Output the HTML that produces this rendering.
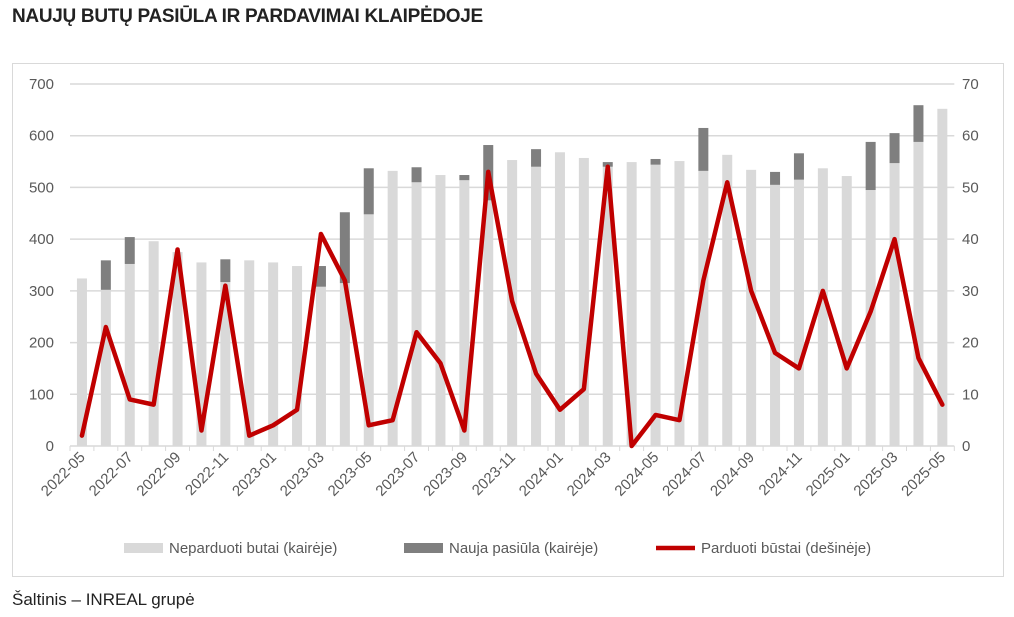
<!DOCTYPE html>
<html><head><meta charset="utf-8"><style>
body{margin:0;background:#fff;font-family:"Liberation Sans",sans-serif;}
#title{position:absolute;left:12px;top:6px;font-size:19px;font-weight:bold;color:#222;letter-spacing:-0.3px}
#frame{position:absolute;left:12px;top:63px;width:990px;height:512px;border:1px solid #d9d9d9}
#src{position:absolute;left:12px;top:590px;font-size:17px;color:#222}
svg text{font-family:"Liberation Sans",sans-serif;fill:#595959;font-size:15px}
</style></head><body>
<div id="title">NAUJŲ BUTŲ PASIŪLA IR PARDAVIMAI KLAIPĖDOJE</div>
<div id="frame"></div>
<div id="src">Šaltinis – INREAL grupė</div>
<svg id="chart" width="1014" height="617" style="position:absolute;left:0;top:0"></svg>
<script>
const categories=["2022-05","2022-06","2022-07","2022-08","2022-09","2022-10","2022-11","2022-12","2023-01","2023-02","2023-03","2023-04","2023-05","2023-06","2023-07","2023-08","2023-09","2023-10","2023-11","2023-12","2024-01","2024-02","2024-03","2024-04","2024-05","2024-06","2024-07","2024-08","2024-09","2024-10","2024-11","2024-12","2025-01","2025-02","2025-03","2025-04","2025-05"];
const unsold=[324,302,352,396,375,355,317,359,355,348,308,315,448,532,510,524,514,475,553,540,568,557,540,549,544,551,532,563,534,505,515,537,522,495,547,588,652];
const newSupply=[0,57,52,0,0,0,44,0,0,0,40,137,89,0,29,0,10,107,0,34,0,0,9,0,11,0,83,0,0,25,51,0,0,93,58,71,0];
const sold=[2,23,9,8,38,3,31,2,4,7,41,32,4,5,22,16,3,53,28,14,7,11,54,0,6,5,32,51,30,18,15,30,15,26,40,17,8];
const leftTicks=[0,100,200,300,400,500,600,700];
const rightTicks=[0,10,20,30,40,50,60,70];
const NS="http://www.w3.org/2000/svg";
const svg=document.getElementById('chart');
const x0=70,step=23.9,y0=446,yTop=84;
const yL=v=>y0-(v/700)*(y0-yTop);
const yR=v=>y0-(v/70)*(y0-yTop);
const xc=i=>x0+step*(i+0.5);
function mk(t,a){const e=document.createElementNS(NS,t);for(const k in a)e.setAttribute(k,a[k]);svg.appendChild(e);return e;}
leftTicks.forEach((v,i)=>{
 const g=mk('line',{x1:x0,x2:x0+step*categories.length,y1:yL(v),y2:yL(v),stroke:'#d9d9d9','stroke-width':1.5});
 
 
 const t=mk('text',{x:54,y:yL(v)+5,'text-anchor':'end'});t.textContent=v;
 
 
});
rightTicks.forEach(v=>{
 const t=mk('text',{x:962,y:yR(v)+5,'text-anchor':'start'});t.textContent=v;
 
 
});
for(let i=0;i<=categories.length;i++){
 const tk=mk('line',{x1:x0+step*i,x2:x0+step*i,y1:y0,y2:y0+5,stroke:'#d9d9d9','stroke-width':1});
 
 
}
categories.forEach((c,i)=>{
 const bw=10,x=xc(i)-bw/2;
 const b=mk('rect',{x:x,y:yL(unsold[i]),width:bw,height:y0-yL(unsold[i]),fill:'#d9d9d9'});
 
 
 if(newSupply[i]>0){
  const d=mk('rect',{x:x,y:yL(unsold[i]+newSupply[i]),width:bw,height:yL(unsold[i])-yL(unsold[i]+newSupply[i]),fill:'#7f7f7f'});
  
  
 }
 if(i%2===0){
  const tx=xc(i)+4,ty=y0+12;
  const t=mk('text',{x:tx,y:ty,'text-anchor':'end',transform:`rotate(-45 ${tx} ${ty})`});
  t.textContent=c;
  
  
 }
});
const pts=sold.map((v,i)=>xc(i)+','+yR(v)).join(' ');
const pl=mk('polyline',{points:pts,fill:'none',stroke:'#c00000','stroke-width':4.5,'stroke-linejoin':'round','stroke-linecap':'round'});


// legend
const leg=[['rect','#d9d9d9',124,'Neparduoti butai (kairėje)'],['rect','#7f7f7f',404,'Nauja pasiūla (kairėje)'],['line','#c00000',656,'Parduoti būstai (dešinėje)']];
leg.forEach(l=>{
 let s;
 if(l[0]==='rect'){s=mk('rect',{x:l[2],y:543,width:39,height:10,fill:l[1]});}
 else{s=mk('line',{x1:l[2],x2:l[2]+39,y1:548,y2:548,stroke:l[1],'stroke-width':4.5});}
 
 
 const t=mk('text',{x:l[2]+45,y:553});t.textContent=l[3];
 
 
});
</script>
</body></html>
